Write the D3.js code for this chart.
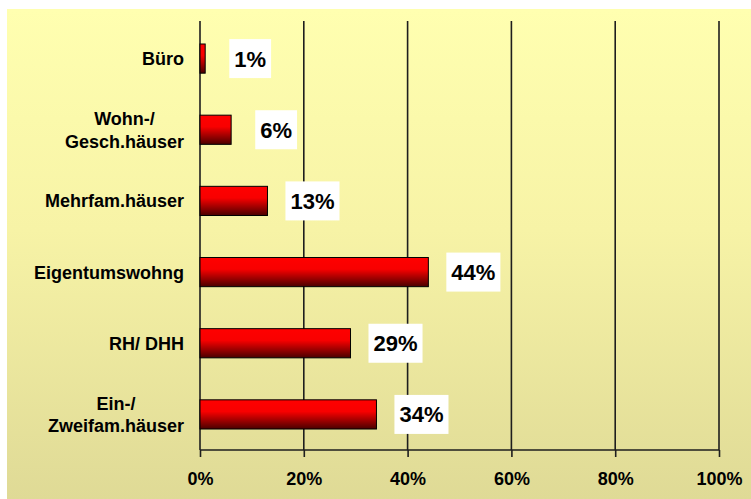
<!DOCTYPE html>
<html>
<head>
<meta charset="utf-8">
<script src="https://cdn.jsdelivr.net/npm/d3@7"></script>
<style>
  html, body { margin: 0; padding: 0; background: #fff; }
  svg { display: block; font-family: "Liberation Sans", Arial, sans-serif; font-weight: bold; }
</style>
</head>
<body>
<svg id="chart" width="751" height="499"></svg>
<script>
// Anteile nach Objektart (Prozent)
const categories = [
  ["Büro"],
  ["Wohn-/", "Gesch.häuser"],
  ["Mehrfam.häuser"],
  ["Eigentumswohng"],
  ["RH/ DHH"],
  ["Ein-/", "Zweifam.häuser"]
];
const values = [1, 6, 13, 44, 29, 34];
const ticks = [0, 20, 40, 60, 80, 100];

const svg = d3.select("#chart");
const W = 751, H = 499;
const plot = { left: 200, right: 719, top: 23, bottom: 450 };

// Background panel with soft yellow gradient
const defs = svg.append("defs");
const bg = defs.append("linearGradient").attr("id", "bgGrad")
  .attr("x1", 0).attr("y1", 0).attr("x2", 0).attr("y2", 1);
bg.append("stop").attr("offset", 0).attr("stop-color", "#ffffb0");
bg.append("stop").attr("offset", 0.45).attr("stop-color", "#f7f3a6");
bg.append("stop").attr("offset", 1).attr("stop-color", "#dfda96");

const barGrad = defs.append("linearGradient").attr("id", "barGrad")
  .attr("x1", 0).attr("y1", 0).attr("x2", 0).attr("y2", 1);
barGrad.append("stop").attr("offset", 0).attr("stop-color", "#ff0000");
barGrad.append("stop").attr("offset", 0.4).attr("stop-color", "#f80000");
barGrad.append("stop").attr("offset", 1).attr("stop-color", "#4a0000");

svg.append("rect").attr("x", 7).attr("y", 9)
  .attr("width", W - 7).attr("height", H - 9)
  .attr("fill", "url(#bgGrad)");

const x = d3.scaleLinear().domain([0, 100]).range([plot.left, plot.right]);
const y = d3.scaleBand().domain(d3.range(values.length))
  .range([plot.top, plot.bottom]).paddingInner(0.59).paddingOuter(0.295);

// Vertical grid lines
svg.append("g").selectAll("line").data(ticks).join("line")
  .attr("x1", d => x(d)).attr("x2", d => x(d))
  .attr("y1", 21).attr("y2", plot.bottom)
  .attr("stroke", "#1e1e1e").attr("stroke-width", 1.6);

// Bottom axis
const xAxis = d3.axisBottom(x).tickValues(ticks)
  .tickFormat(d => d + "%").tickSize(7).tickPadding(15);
const gx = svg.append("g").attr("transform", `translate(0,${plot.bottom})`).call(xAxis);
gx.select(".domain").attr("stroke", "#1e1e1e").attr("stroke-width", 1.6)
  .attr("d", `M${plot.left},0H${plot.right}`);
gx.selectAll(".tick line").attr("stroke", "#1e1e1e").attr("stroke-width", 1.6);
gx.selectAll(".tick text").attr("fill", "#000")
  .style("font-size", "18px").style("font-weight", "bold")
  .style("font-family", "'Liberation Sans', Arial, sans-serif");

// Bars
svg.append("g").selectAll("rect").data(values).join("rect")
  .attr("x", x(0))
  .attr("y", (d, i) => y(i))
  .attr("width", d => x(d) - x(0))
  .attr("height", y.bandwidth())
  .attr("fill", "url(#barGrad)")
  .attr("stroke", "#000").attr("stroke-width", 1);

// Category labels (multi-line centred, block right-aligned)
const labelRight = 184, lineGap = 22.5;
const catG = svg.append("g");
categories.forEach((lines, i) => {
  const cy = y(i) + y.bandwidth() / 2;
  const t = catG.append("text").attr("text-anchor", "middle")
    .attr("font-size", 18).attr("fill", "#000");
  lines.forEach((ln, k) => {
    t.append("tspan").attr("x", 0)
      .attr("y", cy + 6.5 - (lines.length - 1) * lineGap / 2 + k * lineGap)
      .text(ln);
  });
  const w = d3.max(t.selectAll("tspan").nodes(), n => n.getComputedTextLength());
  t.selectAll("tspan").attr("x", labelRight - w / 2);
});

// Value labels in white boxes
const valG = svg.append("g");
values.forEach((v, i) => {
  const cy = y(i) + y.bandwidth() / 2;
  const cx = x(v) + 45;
  const g = valG.append("g");
  const box = g.append("rect").attr("fill", "#fff");
  const t = g.append("text").attr("x", cx).attr("y", cy + 8)
    .attr("text-anchor", "middle").attr("font-size", 22).attr("fill", "#000")
    .text(v + "%");
  const w = t.node().getComputedTextLength() + 10;
  box.attr("x", cx - w / 2).attr("y", cy - 19.5).attr("width", w).attr("height", 39);
});
</script>
</body>
</html>
